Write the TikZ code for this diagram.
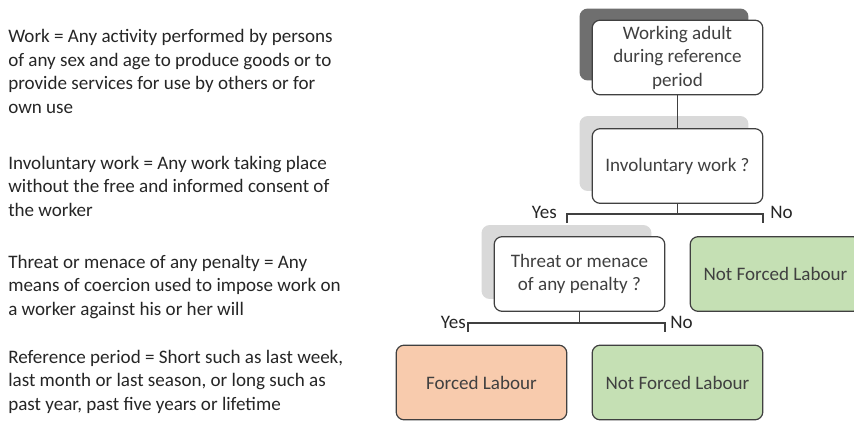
\documentclass[tikz,border=0pt]{standalone}
\usepackage{fontspec}
\setmainfont{Carlito}
\usetikzlibrary{positioning, backgrounds, calc}
\definecolor{boxLine}{HTML}{404040}
\definecolor{txtDark}{HTML}{262626}
\definecolor{shadeDark}{HTML}{6F6F6F}
\definecolor{shadeLight}{HTML}{D9D9D9}
\definecolor{notGreen}{HTML}{C5E0B4}
\definecolor{forcedPeach}{HTML}{F8CBAD}

\begin{document}
\begin{tikzpicture}[x=0.75pt, y=-0.75pt,
    font=\fontsize{14.3pt}{17.6pt}\selectfont,
    box/.style={rectangle, rounded corners=6pt, draw=boxLine, line width=0.9pt,
      fill=white, text=boxLine, minimum width=128pt, minimum height=56pt,
      align=center, inner sep=2pt},
    defn/.style={anchor=base west, align=left, inner sep=0pt, text=txtDark},
    lbl/.style={inner sep=0pt, text=txtDark},
    conn/.style={draw=boxLine, line width=0.8pt}]
  \clip (0,0) rectangle (854,422);

  % definitions on the left (placed by the baseline of their last line)
  \node[defn] (dWork) at (8,113) {Work = Any activity performed by persons\\
    of any sex and age to produce goods or to\\provide services for use by others or for\\own use};
  \node[defn] (dInvol) at (8,216) {Involuntary work = Any work taking place\\
    without the free and informed consent of\\the worker};
  \node[defn] (dThreat) at (8,315) {Threat or menace of any penalty = Any\\
    means of coercion used to impose work on\\a worker against his or her will};
  \node[defn] (dRef) at (8,410) {Reference period = Short such as last week,\\
    last month or last season, or long such as\\past year, past five years or lifetime};

  % decision tree
  \node[box] (adult) at (677.5,57.5) {Working adult\\during reference\\period};
  \node[box] (invol) at (677.5,166) {Involuntary work ?};
  \node[box] (threat) at (579.5,274) {Threat or menace\\of any penalty ?};
  \node[box, fill=notGreen] (notFL1) at (775.5,274) {Not Forced Labour};
  \node[box, fill=forcedPeach] (forced) at (481.5,382.5) {Forced Labour};
  \node[box, fill=notGreen] (notFL2) at (677.5,382.5) {Not Forced Labour};

  \begin{scope}[on background layer]
    \fill[white] (0,0) rectangle (854,422);
    \fill[shadeDark, rounded corners=6pt] ($(adult.north west)+(-12,-11)$)
      rectangle ($(adult.south east)+(-15,-15)$);
    \fill[shadeLight, rounded corners=6pt] ($(invol.north west)+(-12,-12)$)
      rectangle ($(invol.south east)+(-15,-13)$);
    \fill[shadeLight, rounded corners=6pt] ($(threat.north west)+(-12,-11)$)
      rectangle ($(threat.south east)+(-14,-13)$);
  \end{scope}

  \coordinate (bar1) at (677.5,214);
  \coordinate (yes1) at (567,223);
  \coordinate (no1) at (763,223);
  \coordinate (bar2) at (579.5,323);
  \coordinate (yes2) at (468,332);
  \coordinate (no2) at (665,332);

  \draw[conn] (adult) -- (invol);
  \draw[conn] (invol) -- (bar1);
  \draw[conn] (yes1) -- (yes1 |- bar1) -- (no1 |- bar1) -- (no1);
  \draw[conn] (threat) -- (bar2);
  \draw[conn] (yes2) -- (yes2 |- bar2) -- (no2 |- bar2) -- (no2);

  \node[lbl, anchor=base east] (yesA) at (557,218) {Yes};
  \node[lbl, anchor=base west] (noA) at (770,218) {No};
  \node[lbl, anchor=base east] (yesB) at (466,328) {Yes};
  \node[lbl, anchor=base west] (noB) at (670,328) {No};
\end{tikzpicture}
\end{document}
